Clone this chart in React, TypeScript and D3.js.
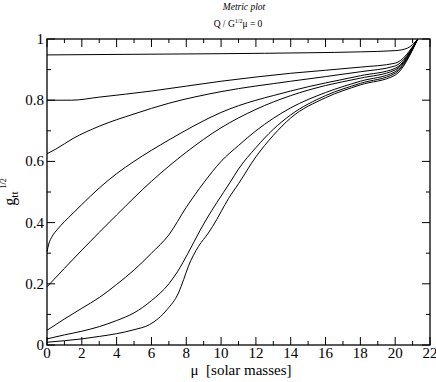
import * as React from 'react'
import * as d3 from 'd3'

// mu [solar masses] vs g_tt^(1/2), one array per curve
const curveA = [[0, 0.948], [5, 0.95], [10, 0.952], [15, 0.955], [18, 0.958], [20, 0.962], [20.7, 0.97], [21.3, 1.0]]
const curveB = [[0, 0.8], [1.4, 0.8], [3, 0.81], [6, 0.83], [10, 0.862], [14, 0.888], [18, 0.908], [20, 0.921], [21.3, 1.0]]
const curveC = [[0, 0.625], [0.5, 0.64], [1.5, 0.675], [3, 0.715], [5, 0.755], [7, 0.79], [10, 0.828], [14, 0.862], [18, 0.893], [20, 0.912], [21.3, 1.0]]
const curveD = [[0, 0.305], [0.1, 0.33], [0.3, 0.355], [0.6, 0.378], [1, 0.403], [1.5, 0.431], [2, 0.459], [3, 0.513], [4, 0.56], [5, 0.6], [7, 0.67], [10, 0.76], [14, 0.83], [18, 0.88], [20, 0.904], [21.3, 1.0]]
const curveE = [[0, 0.19], [2, 0.31], [4, 0.425], [6, 0.535], [8, 0.63], [10, 0.71], [12, 0.77], [14, 0.815], [16, 0.848], [18, 0.872], [20, 0.899], [21.3, 1.0]]
const curveF = [[0, 0.048], [1, 0.085], [2, 0.12], [3, 0.155], [4, 0.198], [5, 0.245], [6, 0.3], [7, 0.36], [8, 0.45], [9, 0.53], [10, 0.6], [11, 0.652], [12, 0.7], [14, 0.775], [16, 0.825], [18, 0.862], [20, 0.893], [21.3, 1.0]]
const curveG = [[0, 0.02], [1, 0.033], [2, 0.045], [3, 0.06], [4, 0.08], [5, 0.105], [6, 0.145], [7, 0.2], [7.5, 0.24], [8.1, 0.3], [8.8, 0.375], [9.2, 0.415], [9.75, 0.465], [10.5, 0.53], [11, 0.575], [12, 0.645], [13, 0.705], [14, 0.752], [16, 0.815], [18, 0.855], [20, 0.888], [21.3, 1.0]]
const curveH = [[0, 0.009], [1, 0.014], [2, 0.02], [3, 0.028], [4, 0.037], [5, 0.05], [5.9, 0.067], [6.9, 0.116], [7.55, 0.17], [7.85, 0.214], [8.12, 0.257], [8.7, 0.322], [9.27, 0.366], [9.75, 0.41], [10.04, 0.44], [10.42, 0.478], [11, 0.527], [12, 0.615], [13, 0.685], [14, 0.742], [16, 0.808], [18, 0.85], [20, 0.882], [21.3, 1.0]]

const curves = [curveA, curveB, curveC, curveD, curveE, curveF, curveG, curveH]

const xMajor = [0, 2, 4, 6, 8, 10, 12, 14, 16, 18, 20, 22]
const yMajor = [0, 0.2, 0.4, 0.6, 0.8, 1]

const W = 436
const H = 382
const margin = { top: 39, right: 6, bottom: 37, left: 47 }
const font = "'Liberation Serif', 'DejaVu Serif', 'Noto Serif', serif"

export default function App() {
  const ref = React.useRef<SVGSVGElement>(null)

  React.useEffect(() => {
    const svg = d3.select(ref.current)
    svg.selectAll('*').remove()

    const x = d3.scaleLinear().domain([0, 22]).range([margin.left, W - margin.right])
    const y = d3.scaleLinear().domain([0, 1]).range([H - margin.bottom, margin.top])
    const [x0, x1] = x.range()
    const [y0, y1] = y.range()

    const xMinor = d3.range(1, 22, 2)
    const yMinor = d3.range(0.1, 1, 0.2)

    const g = svg.append('g')

    // ticks (inward, all four sides)
    const ticks = g.append('g').attr('stroke', '#000').attr('stroke-width', 1)
    xMajor.forEach(v => {
      ticks.append('line').attr('x1', x(v)).attr('x2', x(v)).attr('y1', y0).attr('y2', y0 - 8)
      ticks.append('line').attr('x1', x(v)).attr('x2', x(v)).attr('y1', y1).attr('y2', y1 + 8)
    })
    xMinor.forEach(v => {
      ticks.append('line').attr('x1', x(v)).attr('x2', x(v)).attr('y1', y0).attr('y2', y0 - 4)
      ticks.append('line').attr('x1', x(v)).attr('x2', x(v)).attr('y1', y1).attr('y2', y1 + 4)
    })
    yMajor.forEach(v => {
      ticks.append('line').attr('x1', x0).attr('x2', x0 + 8).attr('y1', y(v)).attr('y2', y(v))
      ticks.append('line').attr('x1', x1).attr('x2', x1 - 8).attr('y1', y(v)).attr('y2', y(v))
    })
    yMinor.forEach(v => {
      ticks.append('line').attr('x1', x0).attr('x2', x0 + 4).attr('y1', y(v)).attr('y2', y(v))
      ticks.append('line').attr('x1', x1).attr('x2', x1 - 4).attr('y1', y(v)).attr('y2', y(v))
    })

    // frame
    g.append('rect')
      .attr('x', x0).attr('y', y1)
      .attr('width', x1 - x0).attr('height', y0 - y1)
      .attr('fill', 'none').attr('stroke', '#000').attr('stroke-width', 1.3)

    // curves
    const line = d3.line<number[]>()
      .x(d => x(d[0]))
      .y(d => y(d[1]))
      .curve(d3.curveMonotoneX)

    g.append('g').selectAll('path')
      .data(curves)
      .enter().append('path')
      .attr('d', d => line(d))
      .attr('fill', 'none')
      .attr('stroke', '#000')
      .attr('stroke-width', 1)

    // tick labels
    g.append('g').selectAll('text')
      .data(xMajor)
      .enter().append('text')
      .attr('x', d => x(d))
      .attr('y', y0 + 13)
      .attr('text-anchor', 'middle')
      .attr('font-family', font)
      .attr('font-size', 15)
      .text(d => String(d))

    g.append('g').selectAll('text')
      .data(yMajor)
      .enter().append('text')
      .attr('x', x0 - 3)
      .attr('y', d => y(d) + 5)
      .attr('text-anchor', 'end')
      .attr('font-family', font)
      .attr('font-size', 15)
      .text(d => (d === 0 || d === 1 ? String(d) : d.toFixed(1)))

    // x axis label
    g.append('text')
      .attr('x', 241).attr('y', 375)
      .attr('text-anchor', 'middle')
      .attr('font-family', font)
      .attr('font-size', 15)
      .style('white-space', 'pre')
      .text('μ  [solar masses]')

    // y axis label
    const yl = g.append('text')
      .attr('transform', 'translate(15, 192) rotate(-90)')
      .attr('text-anchor', 'middle')
      .attr('font-family', font)
      .attr('font-size', 16)
    yl.append('tspan').text('g')
    yl.append('tspan').attr('font-size', 11).attr('dy', 3).text('tt')
    yl.append('tspan').attr('font-size', 8).attr('dx', 3).attr('dy', -12).text('1/2')

    // title
    g.append('text')
      .attr('x', 244).attr('y', 10)
      .attr('text-anchor', 'middle')
      .attr('font-family', font)
      .attr('font-style', 'italic')
      .attr('font-size', 9.5)
      .text('Metric plot')

    const sub = g.append('text')
      .attr('x', 238).attr('y', 27)
      .attr('text-anchor', 'middle')
      .attr('font-family', font)
      .attr('font-size', 9.5)
    sub.append('tspan').text('Q / G')
    sub.append('tspan').attr('font-size', 6).attr('dy', -4).text('1/2')
    sub.append('tspan').attr('dy', 4).text('μ = 0')
  }, [])

  return (
    <svg
      ref={ref}
      width={W}
      height={H}
      style={{ position: 'absolute', left: 0, top: 0, background: '#fff' }}
    />
  )
}
